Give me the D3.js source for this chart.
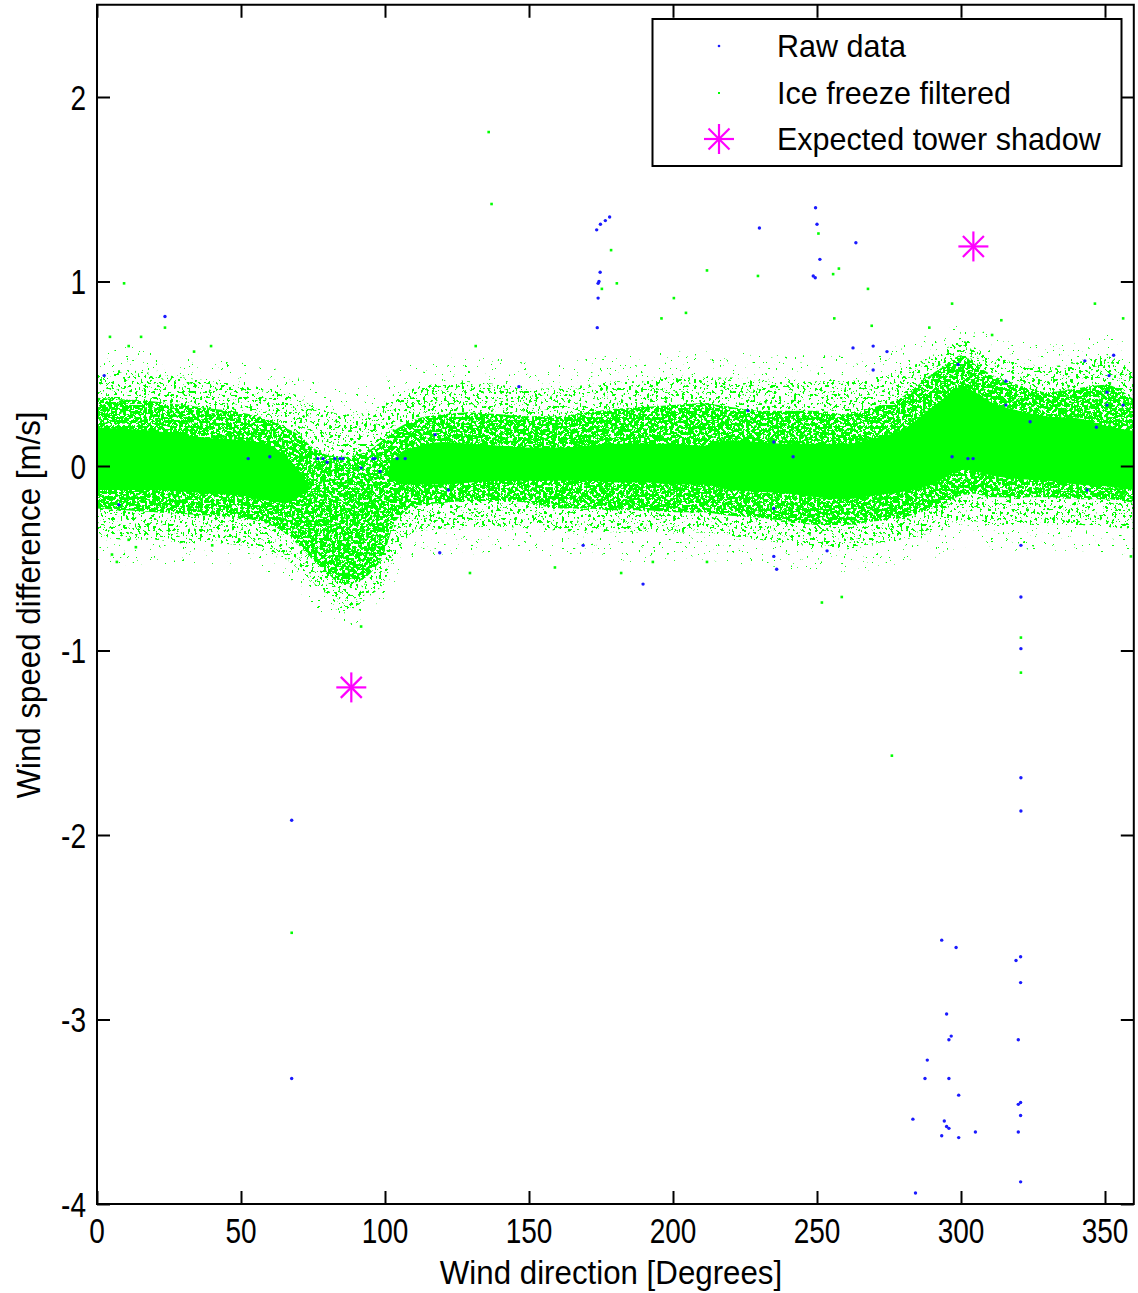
<!DOCTYPE html>
<html>
<head>
<meta charset="utf-8">
<script src="https://cdn.jsdelivr.net/npm/d3@7"></script>
<style>
body { margin: 0; background: #fff; }
text { font-family: 'Liberation Sans', Arial, sans-serif; fill: #000; }
</style>
</head>
<body>
<svg id="chart" width="1138" height="1293"></svg>
<script>

// ---- data ----
var xTicks = [0, 50, 100, 150, 200, 250, 300, 350];
var yTicks = [-4, -3, -2, -1, 0, 1, 2];

// envelope of the green cloud (wind direction in degrees, difference in m/s)
var cloudDir = [0, 10, 20, 30, 40, 50, 60, 65, 70, 75, 80, 85, 90, 95, 100, 103, 106, 110, 120, 130, 140, 150, 160, 170, 180, 190, 200, 210, 220, 230, 240, 250, 260, 270, 280, 290, 295, 300, 305, 310, 320, 330, 340, 350, 360];
var coreLo = [-0.13, -0.13, -0.13, -0.14, -0.15, -0.16, -0.19, -0.2, -0.17, -0.12, -0.12, -0.12, -0.1, -0.08, -0.05, -0.08, -0.1, -0.1, -0.1, -0.09, -0.08, -0.08, -0.08, -0.08, -0.09, -0.09, -0.1, -0.1, -0.13, -0.14, -0.15, -0.17, -0.18, -0.16, -0.14, -0.1, -0.06, -0.02, -0.03, -0.05, -0.07, -0.08, -0.1, -0.11, -0.13];
var coreHi = [0.21, 0.2, 0.19, 0.17, 0.15, 0.14, 0.11, 0.06, -0.02, -0.12, -0.12, -0.12, -0.1, -0.08, -0.05, 0.03, 0.08, 0.1, 0.13, 0.12, 0.11, 0.1, 0.1, 0.11, 0.12, 0.12, 0.12, 0.11, 0.14, 0.13, 0.12, 0.12, 0.12, 0.15, 0.2, 0.32, 0.38, 0.43, 0.4, 0.35, 0.3, 0.27, 0.26, 0.22, 0.19];
var midLo = [-0.23, -0.24, -0.25, -0.26, -0.27, -0.28, -0.32, -0.36, -0.43, -0.51, -0.58, -0.64, -0.63, -0.58, -0.46, -0.32, -0.26, -0.22, -0.2, -0.19, -0.19, -0.2, -0.23, -0.23, -0.24, -0.24, -0.25, -0.25, -0.27, -0.28, -0.3, -0.32, -0.32, -0.3, -0.28, -0.23, -0.2, -0.16, -0.15, -0.17, -0.17, -0.17, -0.18, -0.18, -0.2];
var midHi = [0.37, 0.36, 0.35, 0.33, 0.31, 0.29, 0.25, 0.21, 0.17, 0.1, 0.06, 0.05, 0.06, 0.09, 0.15, 0.19, 0.22, 0.25, 0.28, 0.29, 0.28, 0.27, 0.27, 0.29, 0.31, 0.32, 0.33, 0.34, 0.32, 0.3, 0.3, 0.3, 0.28, 0.32, 0.38, 0.5, 0.55, 0.6, 0.55, 0.5, 0.44, 0.4, 0.42, 0.44, 0.36];
var outLo = [-0.38, -0.4, -0.4, -0.42, -0.42, -0.43, -0.46, -0.5, -0.56, -0.64, -0.7, -0.8, -0.76, -0.7, -0.62, -0.5, -0.42, -0.36, -0.34, -0.33, -0.33, -0.34, -0.35, -0.36, -0.36, -0.36, -0.36, -0.36, -0.38, -0.4, -0.42, -0.44, -0.44, -0.42, -0.4, -0.36, -0.34, -0.3, -0.3, -0.32, -0.32, -0.32, -0.32, -0.33, -0.34];
var outHi = [0.5, 0.52, 0.5, 0.48, 0.46, 0.44, 0.42, 0.4, 0.38, 0.32, 0.3, 0.28, 0.28, 0.3, 0.34, 0.36, 0.4, 0.42, 0.45, 0.46, 0.44, 0.42, 0.42, 0.44, 0.46, 0.46, 0.48, 0.48, 0.48, 0.46, 0.46, 0.46, 0.46, 0.48, 0.52, 0.6, 0.64, 0.68, 0.64, 0.6, 0.56, 0.54, 0.56, 0.6, 0.5];
var farLo = [-0.53, -0.54, -0.53, -0.54, -0.54, -0.54, -0.58, -0.62, -0.68, -0.76, -0.82, -0.88, -0.86, -0.8, -0.73, -0.64, -0.56, -0.5, -0.48, -0.48, -0.46, -0.48, -0.5, -0.5, -0.52, -0.52, -0.52, -0.52, -0.53, -0.54, -0.56, -0.58, -0.58, -0.56, -0.53, -0.5, -0.48, -0.44, -0.44, -0.46, -0.46, -0.46, -0.46, -0.48, -0.48];
var farHi = [0.62, 0.65, 0.62, 0.6, 0.58, 0.56, 0.54, 0.52, 0.5, 0.46, 0.44, 0.42, 0.42, 0.44, 0.48, 0.5, 0.53, 0.56, 0.58, 0.6, 0.58, 0.56, 0.56, 0.58, 0.6, 0.6, 0.62, 0.62, 0.62, 0.6, 0.6, 0.6, 0.6, 0.62, 0.66, 0.72, 0.76, 0.78, 0.76, 0.72, 0.68, 0.66, 0.68, 0.72, 0.62];

// single green points outside the cloud
var filteredPoints = [[9.4, 0.99], [23.6, 0.75], [4.5, 0.7], [11, 0.65], [15.3, 0.7], [33.7, 0.62], [39.6, 0.65],
	[5.2, -0.48], [6.9, -0.52], [11, -0.4], [13.5, -0.44], [40, -0.43], [49.4, -0.4],
	[91.7, -0.87], [129.5, -0.58], [131.5, 0.65], [136, 1.81], [137, 1.42],
	[211.8, 1.06], [229.5, 1.03], [200.3, 0.91], [204.5, 0.83], [180.5, 0.99], [175.3, 0.96], [196, 0.8], [178.5, 1.17],
	[255.6, 1.04], [256, 0.8], [250.5, 1.26], [251.7, -0.74], [159, -0.55], [182, -0.58], [193, -0.52], [211.8, -0.52],
	[257.6, 1.07], [267.7, 0.96], [269, 0.76], [289, 0.75], [296.9, 0.88], [314, 0.79], [310.8, 0.71], [346.5, 0.88], [356.3, 0.8],
	[258.6, -0.71], [320.8, -0.93], [320.8, -1.12], [359, -0.49], [276, -1.57], [67.6, -2.53]];

// blue raw points that show outside the green
var rawPoints = [[2.5, 0.49], [7.6, -0.21], [23.6, 0.81], [52.5, 0.04], [60, 0.05],
	[76.7, 0.04], [78.5, 0.04], [79.9, 0.02], [82.6, 0.04], [84.4, 0.04], [85.4, 0.04], [91.7, -0.01], [95.8, 0.04], [96.5, 0.04], [98.3, -0.03], [104.2, 0.04], [107, 0.04],
	[117.4, 0.17], [122, -0.13], [119, -0.47], [146.5, 0.43],
	[173.7, 0.75], [174, 0.91], [174, 0.99], [174.3, 1.0], [174.7, 1.05], [173.5, 1.28], [174.8, 1.31], [176.5, 1.33], [178, 1.35],
	[168.8, -0.43], [189.6, -0.64],
	[226, 0.3], [235, 0.13], [241.7, 0.05], [235, -0.23], [235, -0.49], [236, -0.56], [253.5, -0.46],
	[230, 1.29], [248.7, 1.03], [249.4, 1.02], [251, 1.12], [249.5, 1.4], [250, 1.31], [263.5, 1.21],
	[262.5, 0.64], [269.5, 0.65], [274.3, 0.62], [269.5, 0.52],
	[299, 0.55], [315.6, 0.46], [315.6, 0.33], [324, 0.24], [296.9, 0.05], [302.4, 0.04], [304.2, 0.04],
	[343.8, -0.13], [347, 0.21], [350.7, 0.33], [350.7, 0.4], [351.4, 0.49], [353, 0.6], [356.3, 0.33], [343, 0.57],
	[320.8, -0.43], [320.8, -0.71], [320.8, -0.99], [320.8, -1.69], [320.8, -1.87],
	[67.6, -1.92], [67.6, -3.32],
	[293.3, -2.57], [298.3, -2.61], [320.7, -2.66], [319.1, -2.68], [320.7, -2.8], [295, -2.97], [296.6, -3.09], [295.8, -3.11], [319.9, -3.11],
	[288.3, -3.22], [287.5, -3.32], [295.8, -3.32], [299.2, -3.41], [320.7, -3.45], [319.9, -3.46], [320.7, -3.52], [283.3, -3.54], [294.2, -3.55],
	[295, -3.58], [295.8, -3.59], [305, -3.61], [319.9, -3.61], [293.3, -3.63], [299.2, -3.64], [320.7, -3.88], [284.2, -3.94]];

var towerShadow = [[88.3, -1.2], [304.3, 1.19]];

var legendNames = ['Raw data', 'Ice freeze filtered', 'Expected tower shadow'];

// ---- chart ----
var svg = d3.select('#chart');
var plotLeft = 97, plotRight = 1133.8, plotTop = 4.75, plotBottom = 1204;

var xScale = d3.scaleLinear().domain([0, 360]).range([plotLeft, plotRight]);
var yScale = d3.scaleLinear().domain([-4, 2.5]).range([plotBottom, plotTop]);

var defs = svg.append('defs');

defs.append('clipPath')
	.attr('id', 'plotClip')
	.append('rect')
	.attr('x', plotLeft)
	.attr('y', plotTop)
	.attr('width', plotRight - plotLeft)
	.attr('height', plotBottom - plotTop);

// speckle textures for the less dense parts of the cloud
function makeSpeckle(id, threshold, seed) {
	var f = defs.append('filter')
		.attr('id', id)
		.attr('filterUnits', 'userSpaceOnUse')
		.attr('x', plotLeft).attr('y', plotTop)
		.attr('width', plotRight - plotLeft).attr('height', plotBottom - plotTop);
	f.append('feTurbulence')
		.attr('type', 'fractalNoise')
		.attr('baseFrequency', 0.34)
		.attr('numOctaves', 2)
		.attr('seed', seed)
		.attr('result', 'noise');
	f.append('feColorMatrix')
		.attr('in', 'noise')
		.attr('type', 'matrix')
		.attr('values', '0 0 0 0 0  0 0 0 0 0  0 0 0 0 0  1 0 0 0 0')
		.attr('result', 'na');
	var ct = f.append('feComponentTransfer').attr('in', 'na').attr('result', 'mask');
	ct.append('feFuncA')
		.attr('type', 'linear')
		.attr('slope', 40)
		.attr('intercept', -40 * threshold);
	f.append('feComposite')
		.attr('in', 'SourceGraphic')
		.attr('in2', 'mask')
		.attr('operator', 'in');
}
makeSpeckle('speckFar', 0.72, 7);
makeSpeckle('speckOut', 0.6, 3);
makeSpeckle('speckMid', 0.44, 11);

var plot = svg.append('g').attr('clip-path', 'url(#plotClip)');

function drawBand(lo, hi, filter) {
	var area = d3.area()
		.x(function(d, i) { return xScale(cloudDir[i]); })
		.y0(function(d, i) { return yScale(lo[i]); })
		.y1(function(d, i) { return yScale(hi[i]); })
		.curve(d3.curveMonotoneX);

	var p = plot.append('path')
		.datum(cloudDir)
		.attr('d', area)
		.style('fill', '#00ff00')
		.attr('stroke', 'none');
	if (filter) p.attr('filter', 'url(#' + filter + ')');
}

drawBand(farLo, farHi, 'speckFar');
drawBand(outLo, outHi, 'speckOut');
drawBand(midLo, midHi, 'speckMid');
drawBand(coreLo, coreHi, null);

plot.selectAll('rect.filtered')
	.data(filteredPoints)
	.enter().append('rect')
	.attr('class', 'filtered')
	.attr('x', function(d) { return xScale(d[0]) - 1.3; })
	.attr('y', function(d) { return yScale(d[1]) - 1.3; })
	.attr('width', 2.6)
	.attr('height', 2.6)
	.style('fill', '#00ff00');

plot.selectAll('circle.raw')
	.data(rawPoints)
	.enter().append('circle')
	.attr('class', 'raw')
	.attr('cx', function(d) { return xScale(d[0]); })
	.attr('cy', function(d) { return yScale(d[1]); })
	.attr('r', 1.7)
	.style('fill', '#1a1aff');

// asterisk marker like matlab '*'
function drawStar(parent, cx, cy) {
	var s = parent.append('g')
		.attr('transform', 'translate(' + cx + ',' + cy + ')')
		.attr('stroke', '#ff00ff')
		.attr('stroke-width', 2.2);
	s.append('line').attr('x1', -15).attr('y1', 0).attr('x2', 15).attr('y2', 0);
	s.append('line').attr('x1', 0).attr('y1', -15).attr('x2', 0).attr('y2', 15);
	s.append('line').attr('x1', -10.5).attr('y1', -10.5).attr('x2', 10.5).attr('y2', 10.5);
	s.append('line').attr('x1', -10.5).attr('y1', 10.5).attr('x2', 10.5).attr('y2', -10.5);
}

towerShadow.forEach(function(d) {
	drawStar(svg, xScale(d[0]), yScale(d[1]));
});

// ---- axes: ticks inside on all four sides ----
function tickAxis(axis, tx, ty) {
	var a = svg.append('g')
		.attr('transform', 'translate(' + tx + ',' + ty + ')')
		.call(axis);
	a.select('.domain').remove();
	a.selectAll('line').attr('stroke', '#000').attr('stroke-width', 2);
	return a;
}
tickAxis(d3.axisBottom(xScale).tickValues(xTicks).tickSizeInner(-13).tickSizeOuter(0).tickFormat(''), 0, plotBottom);
tickAxis(d3.axisTop(xScale).tickValues(xTicks).tickSizeInner(-13).tickSizeOuter(0).tickFormat(''), 0, plotTop);
tickAxis(d3.axisLeft(yScale).tickValues(yTicks).tickSizeInner(-13).tickSizeOuter(0).tickFormat(''), plotLeft, 0);
tickAxis(d3.axisRight(yScale).tickValues(yTicks).tickSizeInner(-13).tickSizeOuter(0).tickFormat(''), plotRight, 0);

svg.append('rect')
	.attr('x', plotLeft)
	.attr('y', plotTop)
	.attr('width', plotRight - plotLeft)
	.attr('height', plotBottom - plotTop)
	.style('fill', 'none')
	.attr('stroke', '#000')
	.attr('stroke-width', 2);

// tick labels (matlab font is a bit narrow)
svg.selectAll('text.xt')
	.data(xTicks)
	.enter().append('text')
	.attr('class', 'xt')
	.attr('transform', function(d) { return 'translate(' + xScale(d) + ',1243) scale(0.8,1)'; })
	.attr('text-anchor', 'middle')
	.style('font-size', '35px')
	.text(function(d) { return d; });

svg.selectAll('text.yt')
	.data(yTicks)
	.enter().append('text')
	.attr('class', 'yt')
	.attr('transform', function(d) { return 'translate(86,' + (yScale(d) + 12.5) + ') scale(0.8,1)'; })
	.attr('text-anchor', 'end')
	.style('font-size', '35px')
	.text(function(d) { return d; });

svg.append('text')
	.attr('transform', 'translate(611,1284) scale(0.92,1)')
	.attr('text-anchor', 'middle')
	.style('font-size', '34px')
	.text('Wind direction [Degrees]');

svg.append('text')
	.attr('transform', 'translate(40,605) rotate(-90) scale(0.92,1)')
	.attr('text-anchor', 'middle')
	.style('font-size', '34px')
	.text('Wind speed difference [m/s]');

// ---- legend ----
var legend = svg.append('g');

legend.append('rect')
	.attr('x', 652.5)
	.attr('y', 19)
	.attr('width', 469)
	.attr('height', 147)
	.style('fill', '#fff')
	.attr('stroke', '#000')
	.attr('stroke-width', 2);

var rowY = [46, 93, 139];

legend.append('circle').attr('cx', 719).attr('cy', rowY[0]).attr('r', 1.3).style('fill', '#1a1aff');
legend.append('rect').attr('x', 718).attr('y', rowY[1] - 1).attr('width', 2).attr('height', 2).style('fill', '#00ff00');
drawStar(legend, 719, rowY[2]);

legend.selectAll('text.lg')
	.data(legendNames)
	.enter().append('text')
	.attr('class', 'lg')
	.attr('x', 777)
	.attr('y', function(d, i) { return rowY[i] + 11; })
	.style('font-size', '30.5px')
	.text(function(d) { return d; });

</script>
</body>
</html>
